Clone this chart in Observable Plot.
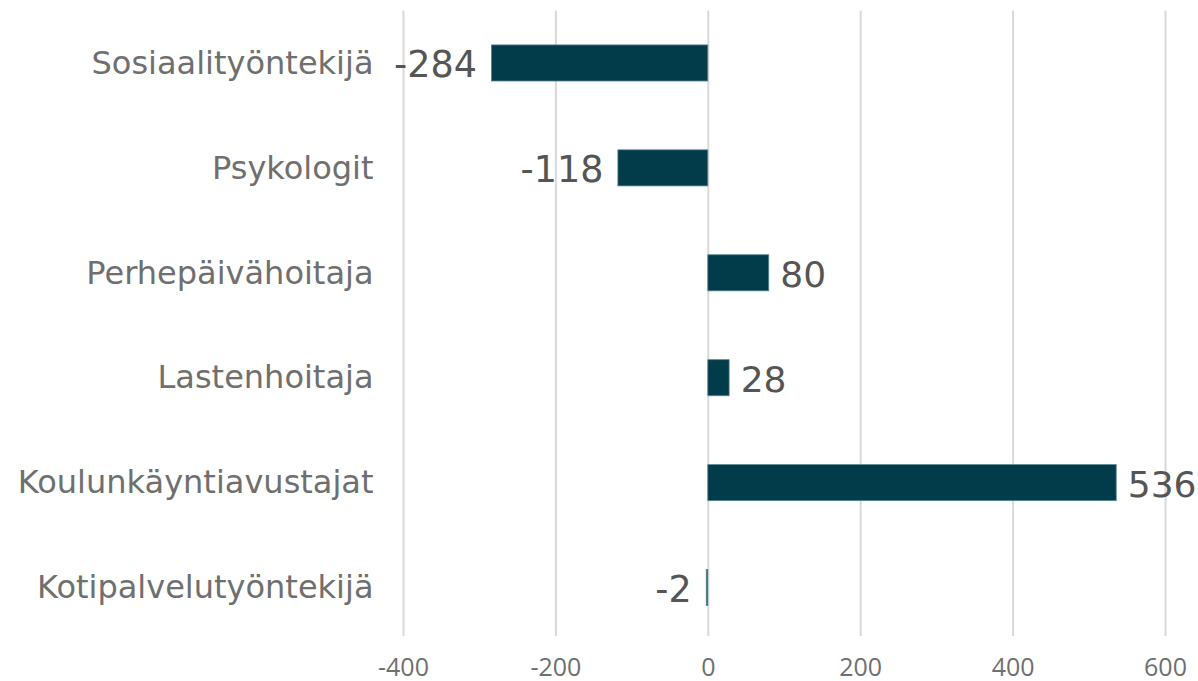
<!DOCTYPE html>
<html>
<head>
<meta charset="utf-8">
<script src="https://cdn.jsdelivr.net/npm/d3@7"></script>
<script src="https://cdn.jsdelivr.net/npm/@observablehq/plot@0.6"></script>
<style>
  html, body { margin: 0; padding: 0; background: #fff; }
  #chart { width: 1198px; height: 681px; }
</style>
</head>
<body>
<div id="chart"></div>
<script>
const categories = ["Sosiaalityöntekijä", "Psykologit", "Perhepäivähoitaja", "Lastenhoitaja", "Koulunkäyntiavustajat", "Kotipalvelutyöntekijä"];
const values = [-284, -118, 80, 28, 536, -2];
const xTicks = [-400, -200, 0, 200, 400, 600];

const data = categories.map((c, i) => ({category: c, value: values[i]}));
const neg = data.filter(d => d.value < 0);
const pos = data.filter(d => d.value >= 0);

const chart = Plot.plot({
  width: 1198,
  height: 681,
  marginLeft: 403,
  marginRight: 33,
  marginTop: 10.5,
  marginBottom: 41,
  style: {background: "#fff", overflow: "visible"},
  x: {domain: [-400, 600], ticks: xTicks, label: null},
  y: {domain: categories, paddingInner: 0.656, paddingOuter: 0.328, round: false, label: null},
  marks: [
    Plot.ruleX(xTicks, {stroke: "#d9d9d9", strokeWidth: 2, insetBottom: 4}),
    Plot.barX(data, {x: "value", y: "category", fill: "#023c4b", stroke: "#5a8994", strokeWidth: 0.8}),
    Plot.text(neg, {
      x: "value", y: "category", text: d => String(d.value),
      textAnchor: "end", dx: -15, dy: 2,
      fill: "#555555", fontSize: 36.5, fontFamily: "DejaVu Sans"
    }),
    Plot.text(pos, {
      x: "value", y: "category", text: d => String(d.value),
      textAnchor: "start", dx: 11, dy: 2,
      fill: "#555555", fontSize: 36, fontFamily: "DejaVu Sans"
    }),
    Plot.axisY({tickSize: 0, tickPadding: 30, fontSize: 32, fontFamily: "DejaVu Sans", color: "#6f6f6f", label: null}),
    Plot.axisX(xTicks, {tickSize: 0, tickPadding: 18, fontSize: 25, fontFamily: "Open Sans", color: "#6f6f6f", label: null, tickFormat: d => String(d)})
  ]
});
document.getElementById("chart").appendChild(chart);
</script>
</body>
</html>
